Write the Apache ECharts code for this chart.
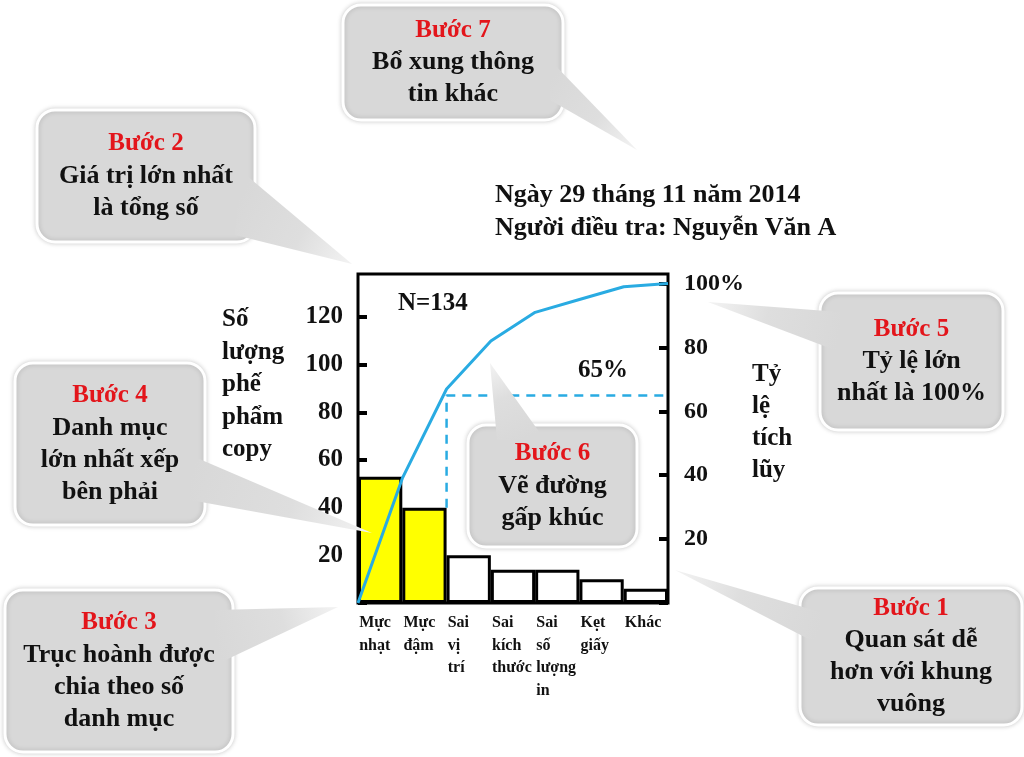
<!DOCTYPE html>
<html><head><meta charset="utf-8">
<script src="https://cdn.jsdelivr.net/npm/echarts@6/dist/echarts.min.js"></script>
<style>html,body{margin:0;padding:0;background:#fff}#c{width:1024px;height:757px}</style>
</head><body><div id="c"></div>
<script>
// ---- data ----
const categories = ['Mực nhạt', 'Mực đậm', 'Sai vị trí', 'Sai kích thước', 'Sai số lượng in', 'Kẹt giấy', 'Khác'];
const defectCounts = [53, 40, 20, 14, 14, 10, 6];
const cumulativePct = [0, 39, 67, 82, 91, 95, 99, 100];
const totalN = 134;
const markedPct = 65;
const vitalFewCount = 2;
const leftTickLabels = [20, 40, 60, 80, 100, 120];
const rightTickLabels = [20, 40, 60, 80, 100];

// ---- styling / layout ----
const FONT = '"Liberation Serif", "DejaVu Serif", serif';
const BLUE = '#29abe2';
const BOX = '#d8d8d8';
const RED = '#e3151b';
const headroom = 1.03;
const leftMax = totalN * headroom;
const rightMax = 100 * headroom;

const chart = echarts.init(document.getElementById('c'), null, {renderer: 'canvas'});

function callout(box, tail, step, lines) {
  const [x, y, w, h] = box;
  const mid = [(tail[0][0] + tail[2][0]) / 2, (tail[0][1] + tail[2][1]) / 2];
  const tip = tail[1];
  const txt = ['{r|' + step + '}'].concat(lines.map(l => '{b|' + l + '}')).join('\n');
  return [
    {type: 'rect', shape: {x, y, width: w, height: h, r: 18}, z: 100, z2: 1,
     style: {fill: BOX, stroke: '#fff', lineWidth: 3, shadowBlur: 5, shadowColor: 'rgba(0,0,0,0.18)'}},
    {type: 'polygon', shape: {points: tail}, z: 100, z2: 2,
     style: {fill: {type: 'linear', global: true, x: mid[0], y: mid[1], x2: tip[0], y2: tip[1],
       colorStops: [{offset: 0, color: BOX}, {offset: 0.55, color: '#dedede'}, {offset: 1, color: '#f3f3f3'}]}}},
    {type: 'text', x: x + w / 2, y: y + h / 2, z: 100, z2: 3,
     style: {text: txt, align: 'center', textAlign: 'center', verticalAlign: 'middle', textVerticalAlign: 'middle',
       rich: {
         r: {fill: RED, fontFamily: FONT, fontSize: 25, fontWeight: 'bold', lineHeight: 32},
         b: {fill: '#111', fontFamily: FONT, fontSize: 26, fontWeight: 'bold', lineHeight: 32}
       }}}
  ];
}

const graphics = [].concat(
  callout([343, 5, 220, 115], [[550, 60], [637, 150], [550, 100]], 'Bước 7', ['Bổ xung thông', 'tin khác']),
  callout([37, 110, 218, 132], [[240, 170], [352, 264], [235, 235]], 'Bước 2', ['Giá trị lớn nhất', 'là tổng số']),
  callout([15, 363, 190, 162], [[190, 455], [372, 533], [190, 500]], 'Bước 4', ['Danh mục', 'lớn nhất xếp', 'bên phải']),
  callout([5, 590, 228, 162], [[215, 610], [338, 607], [215, 665]], 'Bước 3', ['Trục hoành được', 'chia theo số', 'danh mục']),
  callout([820, 293, 183, 137], [[840, 312], [708, 302], [840, 352]], 'Bước 5', ['Tỷ lệ lớn', 'nhất là 100%']),
  callout([800, 588, 222, 137], [[820, 612], [675, 570], [820, 645]], 'Bước 1', ['Quan sát dễ', 'hơn với khung', 'vuông']),
  callout([468, 425, 169, 122], [[497, 440], [490, 363], [545, 440]], 'Bước 6', ['Vẽ đường', 'gấp khúc']),
  [
    {type: 'text', x: 495, y: 212, z: 90,
     style: {text: 'Ngày 29 tháng 11 năm 2014\nNgười điều tra: Nguyễn Văn A', fill: '#111',
       font: 'bold 26px ' + FONT, lineHeight: 33, align: 'left', textAlign: 'left', verticalAlign: 'middle', textVerticalAlign: 'middle'}},
    {type: 'text', x: 222, y: 385, z: 90,
     style: {text: 'Số\nlượng\nphế\nphẩm\ncopy', fill: '#111', font: 'bold 25px ' + FONT, lineHeight: 32.5,
       align: 'left', textAlign: 'left', verticalAlign: 'middle', textVerticalAlign: 'middle'}},
    {type: 'text', x: 752, y: 423, z: 90,
     style: {text: 'Tỷ\nlệ\ntích\nlũy', fill: '#111', font: 'bold 25px ' + FONT, lineHeight: 32,
       align: 'left', textAlign: 'left', verticalAlign: 'middle', textVerticalAlign: 'middle'}},
    {type: 'text', x: 398, y: 304, z: 90,
     style: {text: 'N=' + totalN, fill: '#111', font: 'bold 25px ' + FONT,
       align: 'left', textAlign: 'left', verticalAlign: 'middle', textVerticalAlign: 'middle'}},
    {type: 'text', x: 578, y: 371, z: 90,
     style: {text: markedPct + '%', fill: '#111', font: 'bold 25px ' + FONT,
       align: 'left', textAlign: 'left', verticalAlign: 'middle', textVerticalAlign: 'middle'}}
  ]
);

const secondBarPct = defectCounts[vitalFewCount - 1] / totalN * 100;

chart.setOption({
  backgroundColor: '#fff',
  animation: false,
  grid: {left: 358, top: 274, width: 310, height: 329, show: true, borderColor: '#000', borderWidth: 3,
         backgroundColor: 'transparent'},
  xAxis: [
    {type: 'category', data: categories, gridIndex: 0,
     axisLine: {show: false}, axisTick: {show: false}, splitLine: {show: false},
     axisLabel: {interval: 0, align: 'left', verticalAlign: 'top', margin: 9, padding: [0, 0, 0, -21],
       color: '#111', fontFamily: FONT, fontSize: 16, fontWeight: 'bold', lineHeight: 22.5,
       formatter: v => v.split(' ').join('\n')}},
    {type: 'value', min: 0, max: categories.length, show: false, gridIndex: 0}
  ],
  yAxis: [
    {type: 'value', min: 0, max: leftMax, interval: 20, position: 'left',
     axisLine: {show: false}, splitLine: {show: false},
     axisTick: {show: true, inside: true, length: 9, lineStyle: {color: '#000', width: 4}},
     axisLabel: {margin: 15, color: '#111', fontFamily: FONT, fontSize: 25, fontWeight: 'bold',
       showMaxLabel: false, formatter: v => leftTickLabels.includes(v) ? String(v) : ''}},
    {type: 'value', min: 0, max: rightMax, interval: 20, position: 'right',
     axisLine: {show: false}, splitLine: {show: false},
     axisTick: {show: true, inside: true, length: 9, lineStyle: {color: '#000', width: 4}},
     axisLabel: {margin: 16, color: '#111', fontFamily: FONT, fontSize: 24, fontWeight: 'bold',
       showMaxLabel: false,
       formatter: v => rightTickLabels.includes(v) ? (v === 100 ? '100%' : String(v)) : ''}}
  ],
  series: [
    {type: 'bar', name: 'Số lượng', data: defectCounts, xAxisIndex: 0, yAxisIndex: 0, barWidth: '100%',
     itemStyle: {color: p => p.dataIndex < vitalFewCount ? '#ffff00' : '#ffffff', borderColor: '#000', borderWidth: 3}},
    {type: 'line', name: '65%', xAxisIndex: 1, yAxisIndex: 1, symbol: 'none', z: 3,
     data: [[vitalFewCount, secondBarPct], [vitalFewCount, markedPct], [categories.length, markedPct]],
     lineStyle: {color: BLUE, width: 2.5, type: [9, 7]}},
    {type: 'line', name: 'Tỷ lệ tích lũy', xAxisIndex: 1, yAxisIndex: 1, symbol: 'none', z: 4,
     data: cumulativePct.map((v, i) => [i, v]),
     lineStyle: {color: BLUE, width: 3}}
  ],
  graphic: {elements: graphics}
});
</script>
</body></html>
